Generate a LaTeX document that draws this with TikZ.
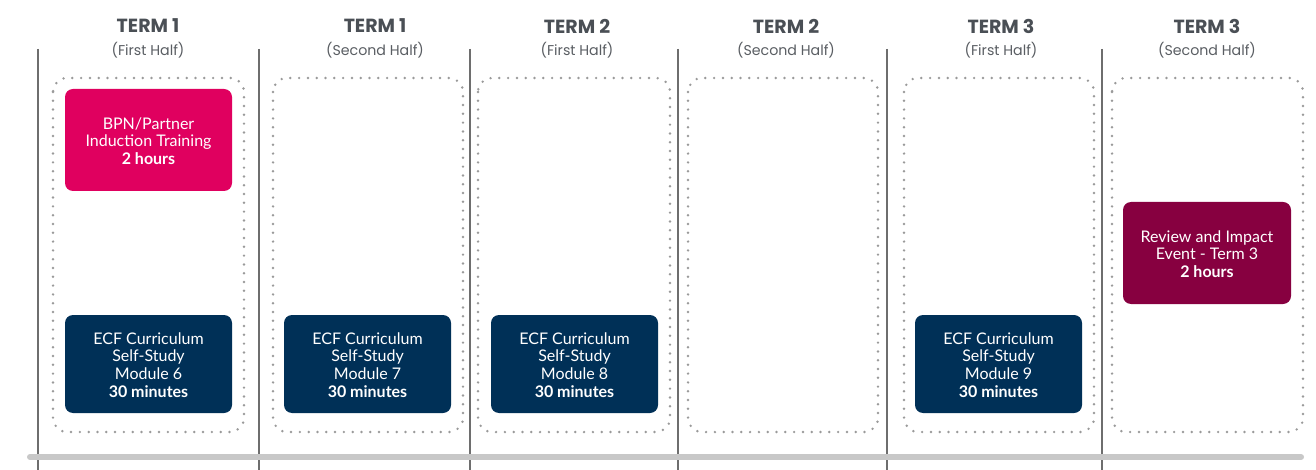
\documentclass[tikz,border=0pt]{standalone}
\usepackage{fontspec}
\setmainfont{Lato}
\newfontfamily\headfont{Poppins}
\definecolor{navy}{HTML}{003057}
\definecolor{pinkc}{HTML}{E0005F}
\definecolor{maroonc}{HTML}{870040}
\definecolor{headc}{HTML}{4A4F55}
\definecolor{subc}{HTML}{5A5E63}
\definecolor{linec}{HTML}{6E6E6E}
\definecolor{dotc}{HTML}{9A9A9A}
\definecolor{barc}{HTML}{C8C8C8}
\begin{document}
\begin{tikzpicture}[x=1pt,y=-1pt,
  sep/.style={draw=linec,line width=1.2pt},
  slot/.style={draw=dotc,line width=2.7pt,line cap=round,dash pattern=on 0pt off 8.8pt,rounded corners=14pt},
  card/.style={rounded corners=8pt},
  cardtext/.style={text=white,align=center,font=\fontsize{16}{17.8}\selectfont},
  headtext/.style={text=headc,font=\headfont\bfseries\fontsize{19}{20}\selectfont},
  subtext/.style={text=subc,font=\headfont\fontsize{14.2}{16}\selectfont}]
\useasboundingbox[fill=white] (0,0) rectangle (1316,470);
% separators
\foreach \x/\n in {38/s1,259/s2,470/s3,678/s4,887/s5,1102/s6}{
  \coordinate (\n t) at (\x,49);
  \coordinate (\n b) at (\x,470);
  \draw[sep] (\n t) -- (\n b);
}
% bar
\coordinate (bl) at (30,457);
\coordinate (br) at (1301,457);
\draw[barc,line width=6pt,line cap=round] (bl) -- (br);
% slots
\foreach \a/\b/\n in {53/244/c1,273/463/c2,478/670/c3,688/878/c4,904/1094/c5,1112/1303/c6}{
  \draw[slot] (\a,78) rectangle (\b,432);
  \coordinate (\n) at ({(\a+\b)/2},0);
}
% headers
\node[headtext] (h1) at (148,26) {TERM 1};
\node[subtext] (p1) at (148,50) {(First Half)};
\node[headtext] (h2) at (375,26) {TERM 1};
\node[subtext] (p2) at (375,50) {(Second Half)};
\node[headtext] (h3) at (577,26) {TERM 2};
\node[subtext] (p3) at (577,50) {(First Half)};
\node[headtext] (h4) at (786,26) {TERM 2};
\node[subtext] (p4) at (786,50) {(Second Half)};
\node[headtext] (h5) at (1001,26) {TERM 3};
\node[subtext] (p5) at (1001,50) {(First Half)};
\node[headtext] (h6) at (1207,26) {TERM 3};
\node[subtext] (p6) at (1207,50) {(Second Half)};
% cards
\fill[card,pinkc] (65,89) rectangle (232,191);
\node[cardtext] (bpn) at (148.5,141) {BPN/Partner\\Induction Training\\\textbf{2 hours}};
\fill[card,maroonc] (1123,202) rectangle (1291,304);
\node[cardtext] (rev) at (1207,254) {Review and Impact\\Event - Term 3\\\textbf{2 hours}};
\foreach \a/\b/\m/\n in {65/232/6/m6,284/451/7/m7,491/658/8/m8,915/1082/9/m9}{
  \fill[card,navy] (\a,315) rectangle (\b,413);
  \node[cardtext] (\n) at ({(\a+\b)/2},365) {ECF Curriculum\\Self-Study\\Module \m\\\textbf{30 minutes}};
}
\end{tikzpicture}
\end{document}
